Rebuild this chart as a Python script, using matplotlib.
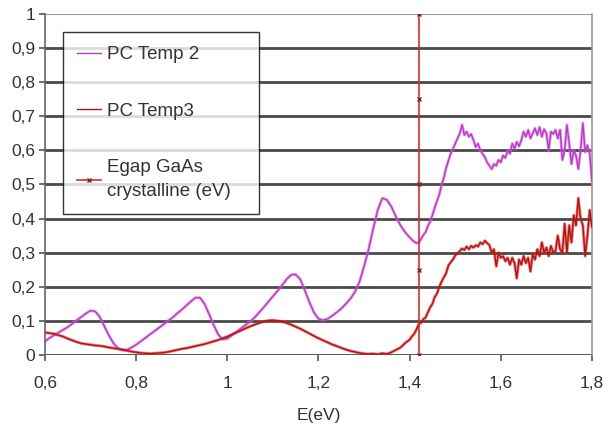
import numpy as np
import matplotlib
matplotlib.use("Agg")
import matplotlib.pyplot as plt

plt.rcParams['font.family'] = ['Liberation Sans', 'DejaVu Sans']

# energy grid: 0.01 eV steps up to 1.40, then 0.005 eV steps to 1.80
e_coarse = [round(0.60 + 0.01 * i, 3) for i in range(81)]
e_fine = [round(1.405 + 0.005 * i, 3) for i in range(80)]
energy = e_coarse + e_fine

pc_temp2 = [
    0.040, 0.050, 0.058, 0.066, 0.074, 0.082, 0.092, 0.102, 0.112, 0.122,
    0.130, 0.128, 0.112, 0.085, 0.058, 0.035, 0.020, 0.016, 0.015, 0.022,
    0.030, 0.040, 0.050, 0.060, 0.070, 0.080, 0.090, 0.100, 0.110, 0.122,
    0.133, 0.145, 0.157, 0.168, 0.168, 0.150, 0.120, 0.088, 0.060, 0.046,
    0.048, 0.058, 0.068, 0.078, 0.088, 0.098, 0.110, 0.125, 0.140, 0.156,
    0.172, 0.188, 0.204, 0.222, 0.235, 0.236, 0.222, 0.190, 0.155, 0.125,
    0.106, 0.102, 0.106, 0.115, 0.125, 0.136, 0.150, 0.165, 0.185, 0.215,
    0.260, 0.310, 0.370, 0.425, 0.460, 0.455, 0.435, 0.405, 0.380, 0.360,
    0.345,
    0.338, 0.332, 0.328, 0.330, 0.340, 0.352, 0.360, 0.378, 0.392, 0.410,
    0.432, 0.452, 0.470, 0.498, 0.520, 0.548, 0.570, 0.590, 0.605, 0.620,
    0.635, 0.650, 0.675, 0.645, 0.655, 0.640, 0.648, 0.630, 0.610, 0.620,
    0.600, 0.590, 0.580, 0.565, 0.555, 0.545, 0.560, 0.555, 0.572, 0.565,
    0.585, 0.578, 0.600, 0.590, 0.620, 0.605, 0.625, 0.612, 0.630, 0.655,
    0.640, 0.660, 0.635, 0.650, 0.665, 0.645, 0.668, 0.640, 0.662, 0.650,
    0.600, 0.655, 0.648, 0.660, 0.635, 0.660, 0.572, 0.600, 0.675, 0.620,
    0.560, 0.600, 0.585, 0.545, 0.600, 0.680, 0.595, 0.615, 0.590, 0.510,
]

pc_temp3 = [
    0.066, 0.064, 0.062, 0.058, 0.054, 0.048, 0.043, 0.038, 0.034, 0.032,
    0.030, 0.028, 0.027, 0.025, 0.022, 0.020, 0.018, 0.015, 0.013, 0.010,
    0.008, 0.006, 0.005, 0.004, 0.005, 0.006, 0.007, 0.009, 0.012, 0.015,
    0.018, 0.020, 0.023, 0.026, 0.029, 0.032, 0.036, 0.040, 0.044, 0.049,
    0.054, 0.060, 0.066, 0.072, 0.078, 0.084, 0.089, 0.094, 0.098, 0.101,
    0.102, 0.100, 0.098, 0.094, 0.089, 0.083, 0.077, 0.070, 0.063, 0.056,
    0.049, 0.043, 0.037, 0.031, 0.026, 0.021, 0.016, 0.012, 0.009, 0.006,
    0.004, 0.003, 0.004, 0.002, 0.005, 0.003, 0.008, 0.015, 0.022, 0.035,
    0.045,
    0.055, 0.062, 0.075, 0.090, 0.095, 0.105, 0.110, 0.125, 0.140, 0.150,
    0.170, 0.180, 0.200, 0.215, 0.228, 0.240, 0.262, 0.272, 0.280, 0.292,
    0.298, 0.305, 0.312, 0.308, 0.318, 0.310, 0.320, 0.315, 0.322, 0.318,
    0.330, 0.325, 0.335, 0.328, 0.322, 0.300, 0.310, 0.260, 0.300, 0.285,
    0.290, 0.275, 0.285, 0.265, 0.285, 0.270, 0.225, 0.280, 0.265, 0.290,
    0.270, 0.285, 0.245, 0.295, 0.280, 0.310, 0.290, 0.330, 0.300, 0.315,
    0.290, 0.320, 0.300, 0.305, 0.350, 0.310, 0.300, 0.385, 0.300, 0.380,
    0.330, 0.410, 0.380, 0.460, 0.400, 0.380, 0.290, 0.350, 0.425, 0.375,
]

# GaAs band gap marker
egap_x = [1.42, 1.42, 1.42, 1.42, 1.42]
egap_y = [0.0, 0.25, 0.5, 0.75, 1.0]

xticks = [0.6, 0.8, 1.0, 1.2, 1.4, 1.6, 1.8]
xtick_labels = ['0,6', '0,8', '1', '1,2', '1,4', '1,6', '1,8']
yticks = [0, 0.1, 0.2, 0.3, 0.4, 0.5, 0.6, 0.7, 0.8, 0.9, 1.0]
ytick_labels = ['0', '0,1', '0,2', '0,3', '0,4', '0,5', '0,6', '0,7', '0,8', '0,9', '1']

fig = plt.figure(figsize=(6.12, 4.25), dpi=100)
ax = fig.add_axes([0.0735, 0.1647, 0.8938, 0.8024])

for y in yticks[:-1]:
    ax.axhline(y, color='#4a4a4a', lw=2.0, zorder=1)
ax.axhline(1.0, color='#9a9a9a', lw=1.5, zorder=1)

# glow + core to mimic the blurry original lines
ax.plot(energy, pc_temp2, color='#e060f0', lw=2.2, alpha=0.6, zorder=2)
ax.plot(energy, pc_temp2, color='#b040b8', lw=1.0, zorder=3, label='PC Temp 2')
ax.plot(energy, pc_temp3, color='#ff2020', lw=2.2, alpha=0.6, zorder=2)
ax.plot(energy, pc_temp3, color='#a01818', lw=1.0, zorder=3, label='PC Temp3')
ax.plot(egap_x, egap_y, color='#cc3030', lw=1.2, marker='x', ms=3,
        mec='#882020', zorder=4, label='Egap GaAs\ncrystalline (eV)')

ax.set_xlim(0.6, 1.8)
ax.set_ylim(0, 1)
ax.set_xticks(xticks)
ax.set_xticklabels(xtick_labels)
ax.set_yticks(yticks)
ax.set_yticklabels(ytick_labels)
ax.tick_params(axis='both', direction='out', length=4, width=1.2,
               color='#555555', labelsize=12.5, labelcolor='#333333')
ax.tick_params(axis='x', pad=11)
ax.tick_params(axis='y', pad=3)

for side in ['top', 'bottom']:
    ax.spines[side].set_visible(False)
ax.spines['left'].set_color('#666666')
ax.spines['left'].set_linewidth(1.2)
ax.spines['right'].set_color('#9a9a9a')
ax.spines['right'].set_linewidth(1.2)

ax.set_xlabel('E(eV)', fontsize=12.5, color='#333333', labelpad=12)

leg = ax.legend(loc='upper left', bbox_to_anchor=(0.033, 0.947, 0.358, 0.0),
                mode='expand', fontsize=13.5, frameon=True, fancybox=False,
                edgecolor='black', handlelength=1.3, handletextpad=0.3,
                labelspacing=2.1, borderpad=0.75, borderaxespad=0.0)
leg.get_frame().set_linewidth(1.0)
leg.set_zorder(5)
for t in leg.get_texts():
    t.set_color('#333333')
    t.set_linespacing(1.55)

fig.savefig('out.png', dpi=100)
